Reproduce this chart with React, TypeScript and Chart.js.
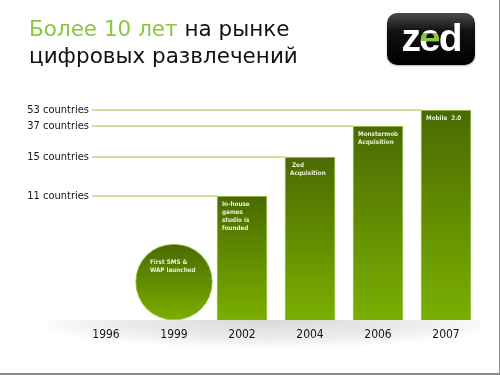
import React, { useEffect, useRef } from 'react';
import { Chart, registerables, LinearScale } from 'chart.js';

// ---- data ----
const years = ['1996', '1999', '2002', '2004', '2006', '2007'];
const countries: (number | null)[] = [null, null, 11, 15, 37, 53];
// 1999 milestone bubble ("First SMS & WAP launched"), one home market
const milestoneCountries: (number | null)[] = [null, 1, null, null, null, null];
const countryTicks = [11, 15, 37, 53];
const notes: string[][] = [
  [],
  ['First SMS &', 'WAP launched'],
  ['In-house', 'games', 'studio is', 'founded'],
  [' Zed', 'Acquisition'],
  ['Monstermob', 'Acquisition'],
  ['Mobile  2.0'],
];

// The reference's value axis is illustrative (not to scale):
// value -> share of the axis height, interpolated between stops.
const AXIS_STOPS: [number, number][] = [
  [0, 0],
  [1, 0.362],
  [11, 0.59],
  [15, 0.776],
  [37, 0.924],
  [53, 1],
];

function toDecimal(v: number): number {
  const a = AXIS_STOPS;
  if (v <= a[0][0]) return a[0][1];
  for (let i = 1; i < a.length; i++) {
    if (v <= a[i][0]) {
      const [v0, f0] = a[i - 1];
      const [v1, f1] = a[i];
      return f0 + ((f1 - f0) * (v - v0)) / (v1 - v0);
    }
  }
  return a[a.length - 1][1];
}
function fromDecimal(d: number): number {
  const a = AXIS_STOPS;
  if (d <= a[0][1]) return a[0][0];
  for (let i = 1; i < a.length; i++) {
    if (d <= a[i][1]) {
      const [v0, f0] = a[i - 1];
      const [v1, f1] = a[i];
      return v0 + ((v1 - v0) * (d - f0)) / (f1 - f0);
    }
  }
  return a[a.length - 1][0];
}

class StopsScale extends LinearScale {
  static id = 'stops';
  static defaults = {};
  getPixelForValue(value: any) {
    if (value === null || value === undefined || isNaN(value)) return NaN;
    return this.getPixelForDecimal(toDecimal(+value));
  }
  getValueForPixel(pixel: number) {
    return fromDecimal(this.getDecimalForPixel(pixel));
  }
}

Chart.register(...registerables, StopsScale as any);

const LABEL_FONT = '"DejaVu Sans Condensed", "DejaVu Sans", sans-serif';

function barFill(c: any) {
  const chart = c.chart;
  const ys = chart.scales && chart.scales.y;
  if (!ys || !c.parsed || c.parsed.y == null) return '#68960a';
  const top = ys.getPixelForValue(c.parsed.y);
  const bottom = ys.getPixelForValue(0);
  const g = chart.ctx.createLinearGradient(0, top, 0, bottom);
  g.addColorStop(0, '#4a6a02');
  g.addColorStop(1, '#7aaf00');
  return g;
}

const decorPlugin = {
  id: 'decor',
  beforeDraw(chart: any) {
    const { ctx, chartArea } = chart;
    const base = chart.scales.y.getPixelForValue(0);
    ctx.save();
    ctx.beginPath();
    ctx.rect(48, base, 432, 50);
    ctx.clip();
    ctx.translate((chartArea.left + chartArea.right) / 2 - 10, base);
    ctx.scale(1, 0.12);
    const g = ctx.createRadialGradient(0, 0, 0, 0, 0, 245);
    g.addColorStop(0, 'rgba(0,0,0,0.15)');
    g.addColorStop(0.6, 'rgba(0,0,0,0.08)');
    g.addColorStop(1, 'rgba(0,0,0,0)');
    ctx.fillStyle = g;
    ctx.fillRect(-270, 0, 540, 400);
    ctx.restore();
  },
  beforeDatasetsDraw(chart: any) {
    const { ctx, chartArea } = chart;
    const meta = chart.getDatasetMeta(0);
    ctx.save();
    ctx.strokeStyle = '#bad77c';
    ctx.lineWidth = 1.5;
    countryTicks.forEach((v) => {
      const i = countries.indexOf(v);
      const el: any = meta.data[i];
      if (!el) return;
      ctx.beginPath();
      ctx.moveTo(chartArea.left - 14, el.y);
      ctx.lineTo(el.x - el.width / 2, el.y);
      ctx.stroke();
    });
    ctx.restore();
  },
  afterDatasetsDraw(chart: any) {
    const { ctx } = chart;
    const m0 = chart.getDatasetMeta(0);
    const m1 = chart.getDatasetMeta(1);
    ctx.save();
    ctx.font = 'bold 6.3px ' + LABEL_FONT;
    ctx.fillStyle = '#e9f1d4';
    ctx.textBaseline = 'top';
    ctx.textAlign = 'left';
    years.forEach((_, i) => {
      const lines = notes[i];
      if (!lines || !lines.length) return;
      let x: number;
      let y: number;
      if (countries[i] != null) {
        const el: any = m0.data[i];
        x = el.x - el.width / 2 + 5;
        y = el.y + 5;
      } else if (milestoneCountries[i] != null) {
        const el: any = m1.data[i];
        x = el.x - 24;
        y = el.y + 15;
      } else return;
      lines.forEach((l, k) => ctx.fillText(l, x, y + k * 8));
    });
    ctx.restore();
  },
};

export default function App() {
  const ref = useRef<HTMLCanvasElement | null>(null);
  useEffect(() => {
    document.body.style.margin = '0';
    const chart = new Chart(ref.current as HTMLCanvasElement, {
      type: 'bar',
      data: {
        labels: years,
        datasets: [
          {
            label: 'Countries',
            data: countries,
            backgroundColor: barFill,
            borderColor: '#a9cd62',
            borderWidth: 1,
            barThickness: 50,
            grouped: false,
            clip: false,
          } as any,
          {
            label: 'Milestone',
            data: milestoneCountries,
            backgroundColor: barFill,
            borderColor: '#a9cd62',
            borderWidth: 1,
            barThickness: 77,
            borderRadius: 40,
            borderSkipped: false,
            grouped: false,
            clip: false,
          } as any,
        ],
      },
      options: {
        responsive: false,
        animation: false,
        events: [],
        layout: { padding: { top: 110, left: 0, right: 54, bottom: 0 } },
        plugins: { legend: { display: false }, tooltip: { enabled: false }, title: { display: false } },
        scales: {
          x: {
            type: 'category',
            offset: false,
            grid: { display: false, drawTicks: false },
            border: { display: false },
            ticks: {
              autoSkip: false,
              maxRotation: 0,
              padding: 8,
              color: '#151515',
              font: { family: LABEL_FONT, size: 12 },
            },
            afterFit: (s: any) => {
              s.height = 55;
            },
          },
          y: {
            type: 'stops' as any,
            min: 0,
            max: 53,
            grid: { display: false, drawTicks: false },
            border: { display: false },
            afterBuildTicks: (s: any) => {
              s.ticks = countryTicks.map((v) => ({ value: v }));
            },
            ticks: {
              autoSkip: false,
              padding: 17,
              color: '#151515',
              font: { family: LABEL_FONT, size: 11 },
              callback: (v: any) => `${v} countries`,
            },
            afterFit: (s: any) => {
              s.width = 106;
            },
          },
        },
      },
      plugins: [decorPlugin],
    } as any);
    return () => chart.destroy();
  }, []);

  return (
    <div
      style={{
        position: 'fixed',
        left: 0,
        top: 0,
        width: 500,
        height: 375,
        boxSizing: 'border-box',
        background: '#fff',
        borderRight: '1px solid #8a8a8a',
        borderBottom: '2px solid #8a8a8a',
        overflow: 'hidden',
      }}
    >
      <canvas ref={ref} width={500} height={375} style={{ position: 'absolute', left: 0, top: 0 }} />
      <div
        style={{
          position: 'absolute',
          left: 29,
          top: 15,
          fontFamily: '"DejaVu Sans", sans-serif',
          fontSize: 21.5,
          lineHeight: '27px',
          color: '#111',
          whiteSpace: 'nowrap',
        }}
      >
        <div>
          <span style={{ color: '#8cc63f' }}>Более 10 лет</span> на рынке
        </div>
        <div>цифровых развлечений</div>
      </div>
      <div
        style={{
          position: 'absolute',
          left: 387,
          top: 13,
          width: 88,
          height: 52,
          borderRadius: 10,
          background: 'linear-gradient(180deg, #4a4a4a 0%, #111 35%, #000 100%)',
          boxShadow: '0 1px 2px rgba(0,0,0,0.3)',
        }}
      >
        <div
          style={{
            position: 'absolute',
            left: 0,
            right: 0,
            top: 5,
            textAlign: 'center',
            fontFamily: '"Liberation Sans", Arial, sans-serif',
            fontWeight: 'bold',
            fontSize: 39,
            lineHeight: '39px',
            letterSpacing: -2,
            color: '#fff',
          }}
        >
          z
          <span
            style={{
              background: 'linear-gradient(180deg, #fff 0%, #fff 40%, #8dc63f 40%, #8dc63f 58%, #fff 58%)',
              WebkitBackgroundClip: 'text',
              backgroundClip: 'text',
              color: 'transparent',
            }}
          >
            e
          </span>
          d
        </div>
      </div>
    </div>
  );
}
